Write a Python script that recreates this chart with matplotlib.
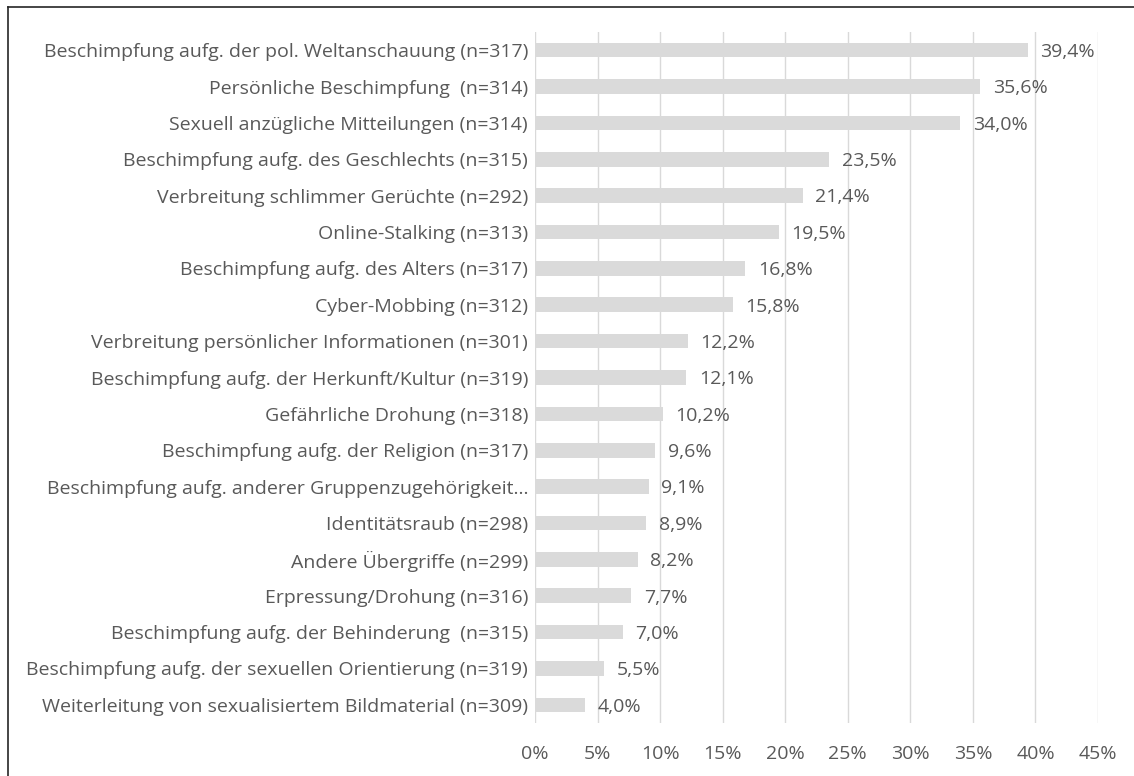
import matplotlib.pyplot as plt
from matplotlib.lines import Line2D
import numpy as np

plt.rcParams['font.family'] = ['Open Sans', 'DejaVu Sans']

labels = ['Beschimpfung aufg. der pol. Weltanschauung (n=317)',
          'Persönliche Beschimpfung  (n=314)',
          'Sexuell anzügliche Mitteilungen (n=314)',
          'Beschimpfung aufg. des Geschlechts (n=315)',
          'Verbreitung schlimmer Gerüchte (n=292)',
          'Online-Stalking (n=313)',
          'Beschimpfung aufg. des Alters (n=317)',
          'Cyber-Mobbing (n=312)',
          'Verbreitung persönlicher Informationen (n=301)',
          'Beschimpfung aufg. der Herkunft/Kultur (n=319)',
          'Gefährliche Drohung (n=318)',
          'Beschimpfung aufg. der Religion (n=317)',
          'Beschimpfung aufg. anderer Gruppenzugehörigkeit…',
          'Identitätsraub (n=298)',
          'Andere Übergriffe (n=299)',
          'Erpressung/Drohung (n=316)',
          'Beschimpfung aufg. der Behinderung  (n=315)',
          'Beschimpfung aufg. der sexuellen Orientierung (n=319)',
          'Weiterleitung von sexualisiertem Bildmaterial (n=309)']
values = [39.4, 35.6, 34.0, 23.5, 21.4, 19.5, 16.8, 15.8, 12.2, 12.1,
          10.2, 9.6, 9.1, 8.9, 8.2, 7.7, 7.0, 5.5, 4.0]
xticks = [0, 5, 10, 15, 20, 25, 30, 35, 40, 45]

text_color = '#595959'
fs = 14
fig = plt.figure(figsize=(11.34, 7.76), dpi=100)
ax = fig.add_axes([535/1134, 1 - 723/776, (1098 - 535)/1134, (723 - 32)/776])

y = np.arange(len(labels))
ax.barh(y, values, height=0.4, color='#dadada', zorder=2)
for yi, v in zip(y, values):
    ax.text(v + 1.0, yi + 0.05, f'{v:.1f}%'.replace('.', ','), va='center', ha='left',
            fontsize=fs, color=text_color)

ax.set_ylim(len(labels) - 0.5, -0.5)
ax.set_xlim(0, 45)
ax.set_yticks(y)
ax.set_yticklabels(labels, fontsize=fs, color=text_color)
ax.set_xticks(xticks)
ax.set_xticklabels([f'{t}%' for t in xticks], fontsize=fs, color=text_color)
ax.tick_params(length=0)
ax.tick_params(axis='x', pad=16)
ax.tick_params(axis='y', pad=5)
ax.grid(axis='x', color='#d9d9d9', linewidth=1, zorder=0)
for s in ax.spines.values():
    s.set_visible(False)

# outer frame (only left and top edges fall inside the image)
fig.add_artist(Line2D([8/1134, 8/1134], [0, 1 - 7/776], transform=fig.transFigure,
                      color='#262626', linewidth=1.2))
fig.add_artist(Line2D([8/1134, 1], [1 - 7/776, 1 - 7/776], transform=fig.transFigure,
                      color='#262626', linewidth=1.2))

fig.savefig('out.png', dpi=100)
